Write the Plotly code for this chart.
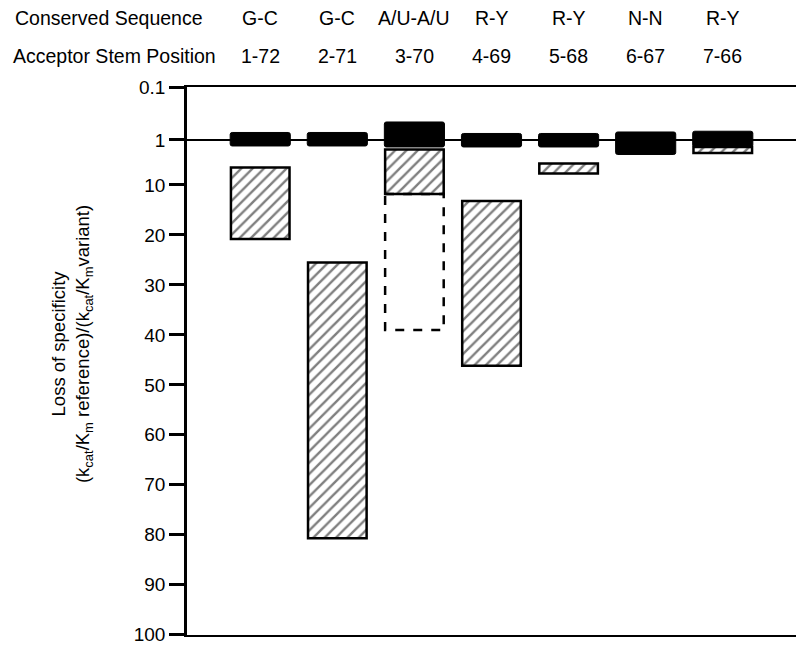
import plotly.graph_objects as go

# ---- data ----
sequence_labels = ["G-C", "G-C", "A/U-A/U", "R-Y", "R-Y", "N-N", "R-Y"]
position_labels = ["1-72", "2-71", "3-70", "4-69", "5-68", "6-67", "7-66"]
x_index = [0, 1, 2, 3, 4, 5, 6]

# solid (black) bars: top and bottom value on the loss-of-specificity axis
black_top = [-0.5, -0.5, -2.6, -0.3, -0.3, -0.6, -0.75]
black_bottom = [2.2, 2.2, 2.4, 2.4, 2.4, 3.9, 2.4]

# hatched bars
hatch_x = [0, 1, 2, 3, 4, 6]
hatch_top = [6.5, 25.5, 2.9, 13.2, 5.7, 2.4]
hatch_bottom = [20.8, 80.7, 11.8, 46.2, 7.7, 3.6]

# dashed (open) bar
dashed_x = [2]
dashed_top = [11.8]
dashed_bottom = [39.0]

tick_vals = [-9.6, 1, 10, 20, 30, 40, 50, 60, 70, 80, 90, 100]
tick_text = ["0.1", "1", "10", "20", "30", "40", "50", "60", "70", "80", "90", "100"]

BAR_W = 0.78
FONT = "Liberation Sans, Arial, Helvetica, sans-serif"

# page layout in pixels
PAGE_W, PAGE_H = 796, 645
PLOT_TOP = 87
PLOT_BOTTOM = 637
PLOT_LEFT = 187
PLOT_RIGHT = 796
PLOT_H = PLOT_BOTTOM - PLOT_TOP
PLOT_W = PLOT_RIGHT - PLOT_LEFT

fig = go.Figure()

fig.add_trace(go.Bar(
    x=x_index,
    base=black_top,
    y=[b - t for t, b in zip(black_top, black_bottom)],
    width=BAR_W,
    marker=dict(color="black", line=dict(color="black", width=1), cornerradius=2),
    showlegend=False,
    hoverinfo="skip",
))

fig.add_trace(go.Bar(
    x=hatch_x,
    base=hatch_top,
    y=[b - t for t, b in zip(hatch_top, hatch_bottom)],
    width=BAR_W - 0.02,
    marker=dict(
        color="white",
        line=dict(color="black", width=2.5),
        pattern=dict(shape="/", fgcolor="black", bgcolor="white", size=8, solidity=0.3),
    ),
    showlegend=False,
    hoverinfo="skip",
))

shapes = [
    dict(type="line", xref="paper", yref="y", x0=0, x1=1, y0=1, y1=1,
         line=dict(color="black", width=2), layer="below"),
]
for xi, t, b in zip(dashed_x, dashed_top, dashed_bottom):
    shapes.append(dict(type="rect", xref="x", yref="y",
                       x0=xi - (BAR_W - 0.02) / 2, x1=xi + (BAR_W - 0.02) / 2,
                       y0=t, y1=b,
                       line=dict(color="black", width=2.5, dash="dash")))


def py(px):
    return (PLOT_BOTTOM - px) / PLOT_H


def pxx(px):
    return (px - PLOT_LEFT) / PLOT_W


annotations = []
row1_y = py(18)
row2_y = py(56)
HDR = 19.5
annotations.append(dict(text="Conserved Sequence", xref="paper", yref="paper",
                        x=pxx(13), y=row1_y, xanchor="left", yanchor="middle",
                        showarrow=False, font=dict(size=HDR, color="black", family=FONT)))
annotations.append(dict(text="Acceptor Stem Position", xref="paper", yref="paper",
                        x=pxx(11), y=row2_y, xanchor="left", yanchor="middle",
                        showarrow=False, font=dict(size=HDR, color="black", family=FONT)))
for xi, s, p in zip(x_index, sequence_labels, position_labels):
    annotations.append(dict(text=s, xref="x", yref="paper", x=xi, y=row1_y,
                            xanchor="center", yanchor="middle", showarrow=False,
                            font=dict(size=HDR, color="black", family=FONT)))
    annotations.append(dict(text=p, xref="x", yref="paper", x=xi, y=row2_y,
                            xanchor="center", yanchor="middle", showarrow=False,
                            font=dict(size=HDR, color="black", family=FONT)))

annotations.append(dict(
    text="Loss of specificity<br>(k<sub>cat</sub>/K<sub>m</sub> reference)/(k<sub>cat</sub>/K<sub>m</sub>variant)",
    xref="paper", yref="paper", x=pxx(72), y=py(345), xanchor="center", yanchor="middle",
    textangle=-90, showarrow=False, font=dict(size=18.5, color="black", family=FONT)))

fig.update_layout(
    width=PAGE_W, height=PAGE_H,
    margin=dict(l=PLOT_LEFT, r=PAGE_W - PLOT_RIGHT, t=PLOT_TOP, b=PAGE_H - PLOT_BOTTOM),
    plot_bgcolor="white", paper_bgcolor="white",
    barmode="overlay",
    shapes=shapes,
    annotations=annotations,
    xaxis=dict(range=[-0.95, 6.95], showticklabels=False, ticks="", showgrid=False,
               zeroline=False, showline=True, mirror=True, linecolor="black", linewidth=2),
    yaxis=dict(range=[100.05, -9.6], tickvals=tick_vals, ticktext=tick_text,
               ticks="outside", ticklen=15, tickwidth=2.5, tickcolor="black",
               ticklabeloverflow="allow",
               showgrid=False, zeroline=False, showline=True, linecolor="black",
               linewidth=2.5, tickfont=dict(size=19, color="black", family=FONT)),
)

fig.write_html("out.html",
               config={"displayModeBar": False},
               post_script="document.body.style.margin='0px';document.body.style.overflow='hidden';")
